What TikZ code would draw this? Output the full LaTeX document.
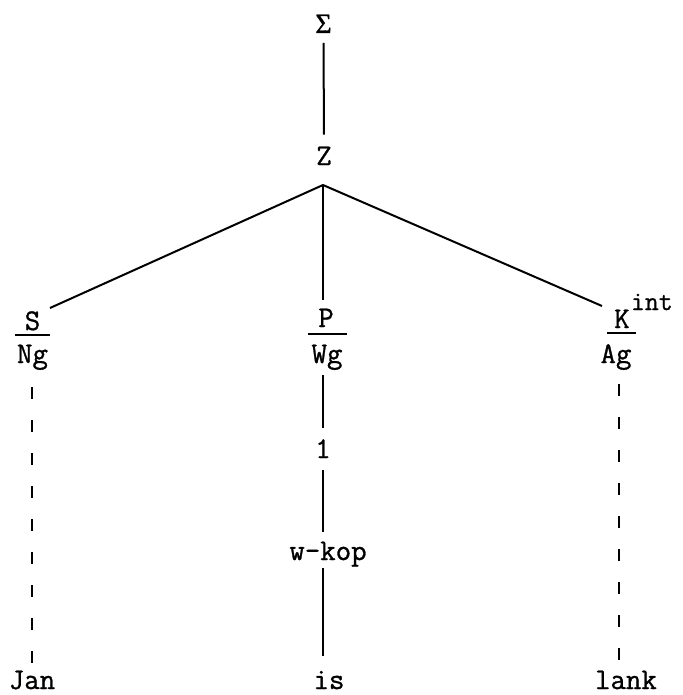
\documentclass[tikz,border=0pt]{standalone}
\usepackage{fontspec}
\newfontfamily\tw{Latin Modern Mono}[FakeBold=1]
\newfontfamily\gr{Liberation Serif}[FakeBold=1]
\begin{document}
\begin{tikzpicture}[x=1pt,y=-1pt,
  lab/.style={font=\tw\fontsize{30}{30}\selectfont, inner sep=0pt, outer sep=0pt, anchor=base},
  sgm/.style={font=\gr\fontsize{28}{28}\selectfont, inner sep=0pt, outer sep=0pt, anchor=base},
  sup/.style={font=\tw\fontsize{27}{27}\selectfont, inner sep=0pt, outer sep=0pt, anchor=base west},
  edge/.style={line width=2pt},
  bar/.style={line width=2.4pt},
  dashedge/.style={line width=2.6pt, dash pattern=on 12pt off 21pt}]
\useasboundingbox (0,0) rectangle (682,695);
% top
\node[sgm] (sigma) at (323.5,33) {\gr\fontsize{28}{28}\selectfont Σ};
\node[lab] (z) at (324,165) {Z};
\coordinate (apex) at (323,185);
\draw[edge, shorten <=10pt, shorten >=12pt] (sigma.south) -- (z.north);
% left
\node[lab] (s) at (32.5,330) {S};
\node[lab] (ng) at (32.5,363) {Ng};
\coordinate (sEnd) at (50,308);
\draw[bar] (15,335) -- (50,335);
% middle
\node[lab] (p) at (326,327) {P};
\node[lab] (wg) at (327,363) {Wg};
\coordinate (pEnd) at (323,300);
\draw[bar] (308,334) -- (347,334);
% right
\node[lab] (k) at (622,328) {K};
\node[sup] (int) at (631,310) {int};
\node[lab] (ag) at (616,363) {Ag};
\coordinate (kEnd) at (602,306);
\draw[bar] (607,333) -- (636,333);
% branches
\draw[edge] (apex) -- (sEnd);
\draw[edge] (apex) -- (pEnd);
\draw[edge] (apex) -- (kEnd);
% middle column
\node[lab] (one) at (323,458) {1};
\node[lab] (wkop) at (328,560) {w-kop};
\node[lab] (is) at (329,689) {is};
\coordinate (wgB) at (323,375);
\coordinate (oneT) at (323,428);
\coordinate (oneB) at (323,470);
\coordinate (wkT) at (323,532);
\coordinate (wkB) at (323,568);
\coordinate (isT) at (323,656);
\draw[line width=1.8pt] (wgB) -- (oneT);
\draw[line width=1.8pt] (oneB) -- (wkT);
\draw[line width=1.8pt] (wkB) -- (isT);
% leaves
\node[lab] (jan) at (32,689) {Jan};
\node[lab] (lank) at (626,689) {lank};
\coordinate (ngB) at (32,387);
\coordinate (janT) at (32,663);
\coordinate (agB) at (619,384);
\coordinate (lankT) at (619,663);
\draw[dashedge] (ngB) -- (janT);
\draw[dashedge] (agB) -- (lankT);
\end{tikzpicture}
\end{document}
